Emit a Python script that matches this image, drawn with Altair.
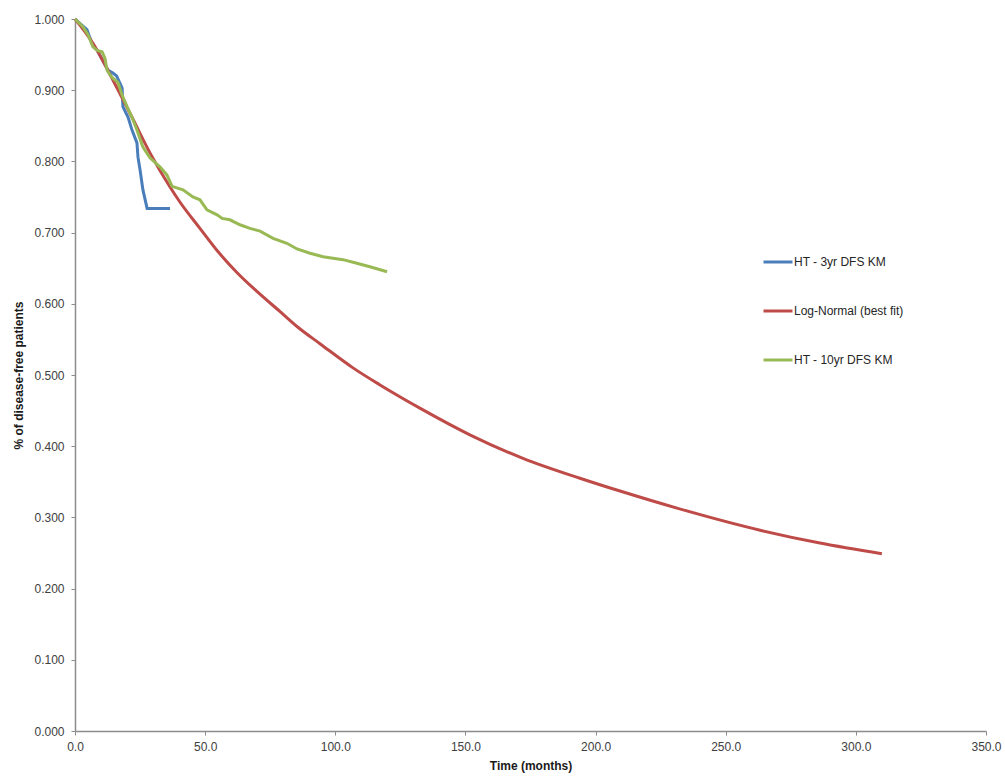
import altair as alt
import pandas as pd

# Kaplan-Meier estimate, 3-year follow-up (months, fraction disease-free)
km3_t = [0, 4.6, 6.5, 8.5, 12.7, 14.6, 16.0, 18.1, 18.4, 20.4, 21.9, 23.8, 24.2,
         25.0, 26.1, 27.7, 36.5]
km3_s = [1.000, 0.985, 0.966, 0.956, 0.928, 0.924, 0.920, 0.903, 0.877, 0.862,
         0.844, 0.826, 0.806, 0.788, 0.760, 0.734, 0.734]

# Fitted log-normal survival curve
ln_t = [0, 6.9, 14.6, 21.9, 28.8, 36.5, 40.3, 48.0, 55.0, 62.2, 70.0, 78.8, 86.0,
        94.1, 106.8, 117.2, 133.7, 151.7, 172.1, 194.0, 209.4, 231.3, 263.2,
        286.2, 310.0]
ln_s = [1.000, 0.966, 0.914, 0.862, 0.812, 0.764, 0.743, 0.706, 0.673, 0.644,
        0.617, 0.589, 0.566, 0.544, 0.510, 0.486, 0.451, 0.416, 0.383, 0.355,
        0.337, 0.313, 0.282, 0.264, 0.249]

# Kaplan-Meier estimate, 10-year follow-up
km10_t = [0, 3.1, 5.0, 6.9, 8.5, 10.4, 11.5, 12.3, 14.2, 16.5, 18.1, 20.0, 21.9,
          23.8, 26.1, 28.8, 32.7, 35.3, 37.3, 41.5, 45.3, 48.0, 50.7, 54.6,
          56.5, 59.5, 63.4, 67.2, 71.1, 76.1, 81.4, 85.3, 90.3, 95.3, 99.1,
          103.0, 108.3, 113.3, 119.9]
km10_s = [1.000, 0.989, 0.978, 0.961, 0.956, 0.954, 0.945, 0.928, 0.918, 0.911,
          0.893, 0.877, 0.862, 0.844, 0.820, 0.805, 0.792, 0.781, 0.765, 0.760,
          0.750, 0.746, 0.732, 0.725, 0.720, 0.718, 0.711, 0.706, 0.702, 0.692,
          0.685, 0.677, 0.671, 0.666, 0.664, 0.662, 0.657, 0.652, 0.645]

series_names = ["HT - 3yr DFS KM", "Log-Normal (best fit)", "HT - 10yr DFS KM"]
series_colors = ["#4A7EBB", "#BE4B48", "#98B954"]
series_interp = ["linear", "monotone", "linear"]

frames = []
for name, t, s in zip(series_names, [km3_t, ln_t, km10_t], [km3_s, ln_s, km10_s]):
    frames.append(pd.DataFrame({"time": t, "surv": s, "series": name}))
df = pd.concat(frames, ignore_index=True)

FONT = "Liberation Sans"

x_enc = alt.X(
    "time:Q",
    title="Time (months)",
    scale=alt.Scale(domain=[0, 350], nice=False),
    axis=alt.Axis(values=[0, 50, 100, 150, 200, 250, 300, 350], format=".1f",
                  grid=False, tickSize=4, labelPadding=6, titlePadding=8,
                  labelFlush=False),
)
y_enc = alt.Y(
    "surv:Q",
    title="% of disease-free patients",
    scale=alt.Scale(domain=[0, 1], nice=False),
    axis=alt.Axis(values=[i / 10 for i in range(11)], format=".3f",
                  grid=False, tickSize=4, labelPadding=7, titlePadding=8,
                  labelFlush=False),
)
color_enc = alt.Color(
    "series:N",
    scale=alt.Scale(domain=series_names, range=series_colors),
    legend=alt.Legend(
        title=None, orient="none", legendX=687, legendY=227,
        symbolType="stroke", symbolSize=841, symbolStrokeWidth=3,
        labelFontSize=12, labelFont=FONT, labelColor="#262626",
        rowPadding=27, labelOffset=0, padding=0,
    ),
)

layers = []
for name, interp in zip(series_names, series_interp):
    layers.append(
        alt.Chart(df)
        .transform_filter(alt.datum.series == name)
        .mark_line(strokeWidth=3, interpolate=interp)
        .encode(x=x_enc, y=y_enc, color=color_enc)
    )

chart = (
    alt.layer(*layers)
    .properties(
        width=911, height=712,
        autosize=alt.AutoSizeParams(type="none"),
        padding={"left": 75, "top": 19, "right": 19, "bottom": 45},
        background="white",
    )
    .configure_view(stroke=None)
    .configure_axis(
        labelFont=FONT, titleFont=FONT, labelFontSize=12, titleFontSize=12,
        labelColor="#404040", titleColor="#1a1a1a", titleFontWeight="bold",
        domainColor="#8c8c8c", tickColor="#8c8c8c", domainWidth=1.5,
    )
)

chart.save("out.html", embed_options={"renderer": "svg", "actions": False})
